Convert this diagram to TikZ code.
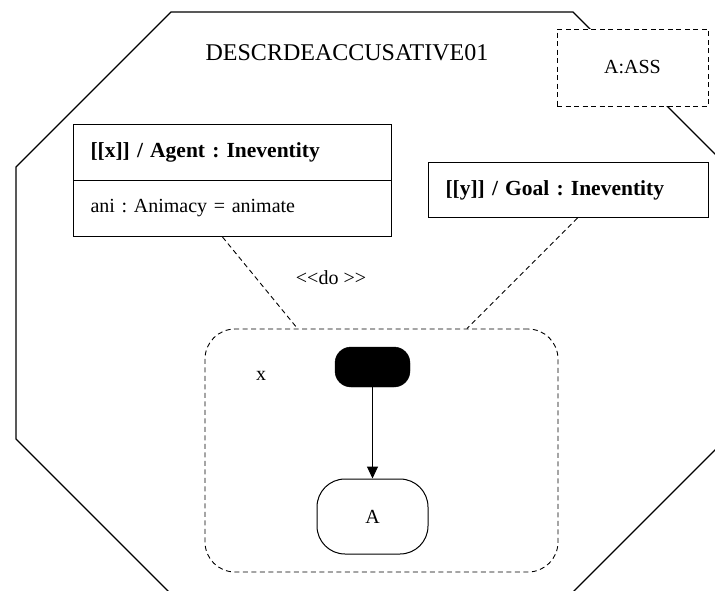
\documentclass[tikz,border=0pt]{standalone}
\usepackage{fontspec}
\setmainfont{Liberation Serif}
\usetikzlibrary{arrows.meta}
\frenchspacing
\begin{document}
\begin{tikzpicture}[x=1pt,y=-1pt,
  txt/.style={font=\fontsize{20}{24}\selectfont, inner sep=0pt},
  boldtxt/.style={font=\bfseries\fontsize{21.5}{25}\selectfont},
  umlbox/.style={draw, line width=1pt, fill=white, anchor=north west, inner xsep=17pt, inner ysep=0pt, align=left},
  dashpat/.style={line width=0.9pt, dash pattern=on 5pt off 3.5pt},
  dashbox/.style={draw, dashpat, fill=white, inner sep=0pt},
  link/.style={dashpat},
  outline/.style={line width=1.2pt}
]
\useasboundingbox (0,0) rectangle (715,590);
\clip (0,0) rectangle (715,590);
\fill[white] (0,0) rectangle (715,590);

% octagonal package outline (extends past the page edges)
\draw[outline] (171,12) -- (573,12) -- (728,167) -- (728,437) -- (571,594)
  -- (171,594) -- (16,439) -- (16,167) -- cycle;

\node[txt, font=\fontsize{24}{28}\selectfont] (title) at (347,53) {DESCRDEACCUSATIVE01};

\node[dashbox, minimum width=151pt, minimum height=77pt, txt] (ass) at (632.5,67.5) {A:ASS};

% agent class box with its attribute compartment
\node[umlbox, text width=284pt, minimum height=56pt, boldtxt] (agenthead) at (73,124)
  {[[x]] / Agent : Ineventity};
\node[umlbox, text width=284pt, minimum height=56pt, txt, inner xsep=17pt] (agentbody) at (73,180)
  {ani : Animacy = animate};

% goal class box
\node[umlbox, text width=246pt, minimum height=55pt, boldtxt] (goal) at (428,162)
  {[[y]] / Goal : Ineventity};

% activity frame
\node[draw, dashpat, rounded corners=30pt, minimum width=353pt, minimum height=243pt] (frame) at (381.5,450.5) {};

\draw[link] ([xshift=-10pt]agentbody.south) -- ([xshift=-84pt]frame.north);
\draw[link] ([xshift=9pt]goal.south) -- ([xshift=85.5pt]frame.north);

% stereotype label, with kerns keeping the angle brackets from merging
\node[txt] (stereo) at (331,278) {<\kern0pt<do >\kern0pt>};
\node[txt] (xlab) at (261,376) {x};

% initial node and action state
\node[fill=black, draw, rounded corners=16pt, minimum width=75pt, minimum height=40pt, inner sep=0pt] (init) at (372.5,367) {};
\node[draw, line width=1pt, rounded corners=28pt, minimum width=111pt, minimum height=75pt, txt] (stA) at (372.5,516.5) {A};

\draw[line width=1pt, -{Triangle[width=11pt,length=12pt]}] (init) -- (stA);
\end{tikzpicture}
\end{document}
